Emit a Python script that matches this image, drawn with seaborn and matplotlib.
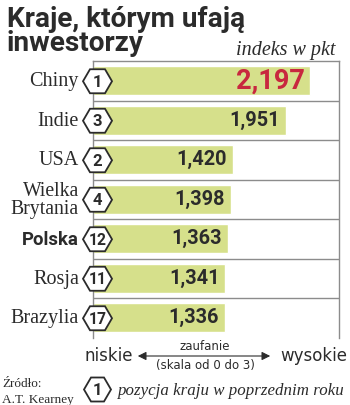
import numpy as np
import pandas as pd
import matplotlib
matplotlib.use("Agg")
import matplotlib.pyplot as plt
from matplotlib.patches import Polygon
from matplotlib.transforms import blended_transform_factory
import seaborn as sns

countries = ["Chiny", "Indie", "USA", "Wielka\nBrytania", "Polska", "Rosja", "Brazylia"]
values = [2.197, 1.951, 1.420, 1.398, 1.363, 1.341, 1.336]
value_labels = ["2,197", "1,951", "1,420", "1,398", "1,363", "1,341", "1,336"]
prev_rank = ["1", "3", "2", "4", "12", "11", "17"]

sns.set_theme(style="white")
plt.rcParams["font.family"] = ["DejaVu Sans"]

W, H = 350, 406
fig = plt.figure(figsize=(W / 100, H / 100), dpi=100)
fig.patch.set_facecolor("white")

ax_l, ax_r, ax_t, ax_b = 93, 339, 62, 338.5
ax = fig.add_axes([ax_l / W, 1 - ax_b / H, (ax_r - ax_l) / W, (ax_b - ax_t) / H])

df = pd.DataFrame({"country": countries, "value": values})
sns.barplot(data=df, x="value", y="country", orient="h", color="#d6e08b",
            width=0.74, saturation=1, ax=ax, zorder=2)

ax.set_xlim(0, 2.49)
ax.set_ylim(len(countries) - 0.5, -0.5)
ax.set_xlabel("")
ax.set_ylabel("")
ax.set_xticks([])
ax.set_yticks([])
for s in ["top", "left", "right"]:
    ax.spines[s].set_visible(True)
    ax.spines[s].set_color("#8c8c8c")
    ax.spines[s].set_linewidth(1.0)
ax.spines["bottom"].set_visible(False)
for i in range(len(countries) - 1):
    ax.axhline(i + 0.5, color="#8c8c8c", lw=1.0, zorder=1)

dark = "#2b2b2b"
row_px = (ax_b - ax_t) / len(countries)

# country labels
lab_tr = blended_transform_factory(fig.transFigure, ax.transData)
for i, c in enumerate(countries):
    if c == "Polska":
        ax.text(79 / W, i, c, transform=lab_tr, ha="right", va="center",
                fontsize=13.4, fontweight="bold", family="Roboto", color=dark)
    else:
        ax.text(79 / W, i, c, transform=lab_tr, ha="right", va="center",
                fontsize=14.5 if "\n" not in c else 14.2, family="Liberation Serif",
                color=dark, linespacing=0.95, multialignment="right")

# hexagon badges
def hexagon(cx_px, cy_px, w, h, a):
    pts = [(cx_px - w / 2, cy_px), (cx_px - w / 2 + a, cy_px + h / 2),
           (cx_px + w / 2 - a, cy_px + h / 2), (cx_px + w / 2, cy_px),
           (cx_px + w / 2 - a, cy_px - h / 2), (cx_px - w / 2 + a, cy_px - h / 2)]
    return [(x / W, 1 - y / H) for x, y in pts]

for i, r in enumerate(prev_rank):
    cy = ax_t + row_px * (i + 0.5) + 0.5
    poly = Polygon(hexagon(97.5, cy, 29, 24, 7), closed=True, transform=fig.transFigure,
                   facecolor="white", edgecolor=dark, lw=1.3, zorder=5)
    fig.patches.append(poly)
    fig.text(97.5 / W, 1 - cy / H, r, ha="center", va="center",
             fontsize=12 if len(r) == 1 else 11.3,
             fontweight="bold", family="Roboto", color=dark, zorder=6)

# value labels
for i, (v, t) in enumerate(zip(values, value_labels)):
    if i == 0:
        ax.annotate(t, (v, i), xytext=(-5, 1), textcoords="offset pixels",
                    ha="right", va="center", fontsize=19.5, fontweight="bold",
                    family="Roboto", color="#c8283f", zorder=4)
    else:
        ax.annotate(t, (v, i), xytext=(-6, 1), textcoords="offset pixels",
                    ha="right", va="center", fontsize=14.3, fontweight="bold",
                    family="Roboto", color=dark, zorder=4)

# title (va='baseline' aligns the last line)
fig.text(7 / W, 1 - 51 / H, "Kraje, którym ufają\ninwestorzy", ha="left", va="baseline",
         fontsize=20.2, fontweight="bold", family="Roboto", color=dark,
         linespacing=0.86)
fig.text(336 / W, 1 - 55 / H, "indeks w pkt", ha="right", va="baseline",
         fontsize=14.5, style="italic", family="Liberation Serif", color=dark)

# scale annotation
fig.text(85 / W, 1 - 356 / H, "niskie", ha="left", va="center", fontsize=12,
         family="DejaVu Sans", color=dark)
fig.text(347 / W, 1 - 356 / H, "wysokie", ha="right", va="center", fontsize=12,
         family="DejaVu Sans", color=dark)
fig.patches.append(matplotlib.patches.FancyArrowPatch(
    (135 / W, 1 - 357 / H), (273 / W, 1 - 357 / H), transform=fig.transFigure,
    arrowstyle="<|-|>,head_length=5,head_width=2.5", color=dark, lw=0.8))
fig.text(205 / W, 1 - 347 / H, "zaufanie", ha="center", va="center", fontsize=8.5,
         family="DejaVu Sans", color=dark)
fig.text(205 / W, 1 - 366 / H, "(skala od 0 do 3)", ha="center", va="center",
         fontsize=8.5, family="DejaVu Sans", color=dark)

# footer
fig.text(2 / W, 1 - 387 / H, "Źródło:", ha="left", va="baseline", fontsize=9.5,
         family="Liberation Serif", color=dark)
fig.text(2 / W, 1 - 403 / H, "A.T. Kearney", ha="left", va="baseline", fontsize=9.5,
         family="Liberation Serif", color=dark)
fig.patches.append(Polygon(hexagon(97.5, 390.5, 27, 24, 7), closed=True,
                           transform=fig.transFigure, facecolor="white",
                           edgecolor=dark, lw=1.3))
fig.text(97.5 / W, 1 - 390.5 / H, "1", ha="center", va="center", fontsize=12,
         fontweight="bold", family="Roboto", color=dark)
fig.text(345 / W, 1 - 391 / H, "pozycja kraju w poprzednim roku", ha="right",
         va="center", fontsize=12.2, style="italic", family="Liberation Serif", color=dark)

fig.savefig("out.png", dpi=100, facecolor="white")
